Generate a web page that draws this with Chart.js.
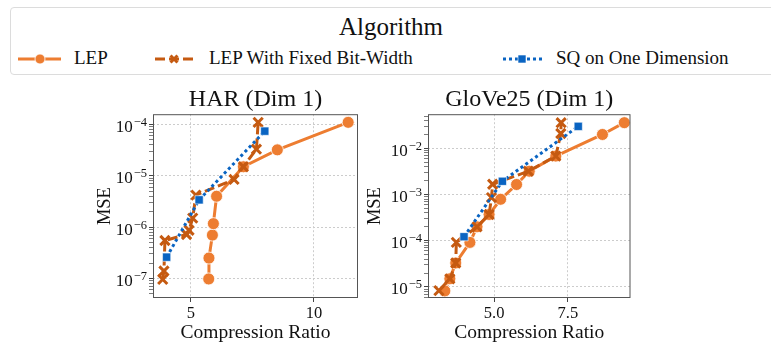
<!DOCTYPE html>
<html>
<head>
<meta charset="utf-8">
<script src="https://cdn.jsdelivr.net/npm/chart.js@4"></script>
<style>
  html, body { margin: 0; padding: 0; background: #fff; width: 771px; height: 347px; overflow: hidden; }
  body { position: relative; font-family: 'Liberation Serif', serif; color: #111; }
  #legend { position: absolute; left: 10px; top: 7px; width: 775px; height: 68px; border: 1px solid #dcdcdc; border-radius: 4px; box-sizing: border-box; }
  #legend .title { position: absolute; left: 0; width: 760px; top: 5px; text-align: center; font-size: 25px; line-height: 28px; }
  #legend .item { position: absolute; top: 39px; font-size: 19px; line-height: 22px; }
  #legend svg { position: absolute; top: 40px; }
  canvas { position: absolute; }
</style>
</head>
<body>
<div id="legend">
  <div class="title">Algorithm</div>
  <svg style="left:5px" width="46" height="22">
    <line x1="2" y1="11" x2="45" y2="11" stroke="#ED7D31" stroke-width="3"/>
    <circle cx="24" cy="11" r="5" fill="#ED7D31" stroke="#fff" stroke-width="0.8"/>
  </svg>
  <div class="item" style="left:63px">LEP</div>
  <svg style="left:142px" width="46" height="22">
    <line x1="2" y1="11" x2="43" y2="11" stroke="#C55A11" stroke-width="3" stroke-dasharray="10,4"/>
    <path d="M17.5 7.5 L24.5 14.5 M24.5 7.5 L17.5 14.5" stroke="#C55A11" stroke-width="3"/>
  </svg>
  <div class="item" style="left:198px">LEP With Fixed Bit-Width</div>
  <svg style="left:490px" width="46" height="22">
    <line x1="2" y1="11" x2="43" y2="11" stroke="#0A64C2" stroke-width="3" stroke-dasharray="3,3"/>
    <rect x="17" y="7" width="8" height="8" fill="#0A64C2" stroke="#fff" stroke-width="0.6"/>
  </svg>
  <div class="item" style="left:545px">SQ on One Dimension</div>
</div>
<canvas id="har" width="280" height="262" style="left:90px; top:85px; width:280px; height:262px"></canvas>
<canvas id="glove" width="280" height="262" style="left:360px; top:85px; width:280px; height:262px"></canvas>
<script>
// HAR (Dim 1): compression ratio vs MSE
const harLepX = [5.72, 5.73, 5.87, 5.91, 6.04, 7.13, 8.51, 11.39];
const harLepY = [9.8e-8, 2.5e-7, 7.0e-7, 1.17e-6, 4.0e-6, 1.5e-5, 3.2e-5, 1.1e-4];
const harFixedX = [3.85, 3.90, 3.94, 4.82, 4.92, 5.07, 5.20, 6.75, 7.13, 7.66, 7.73];
const harFixedY = [9.6e-8, 1.4e-7, 5.5e-7, 7.2e-7, 8.7e-7, 1.5e-6, 4.2e-6, 8.5e-6, 1.5e-5, 3.3e-5, 1.1e-4];
const harSqX = [4.01, 5.33, 8.00];
const harSqY = [2.6e-7, 3.4e-6, 7.4e-5];

// GloVe25 (Dim 1)
const gloveLepX = [3.33, 3.50, 3.70, 4.18, 4.42, 4.83, 5.22, 5.76, 6.19, 7.09, 8.67, 9.41];
const gloveLepY = [8.2e-6, 1.5e-5, 3.3e-5, 9.2e-5, 2.0e-4, 3.7e-4, 7.9e-4, 1.65e-3, 3.2e-3, 6.8e-3, 2.0e-2, 3.6e-2];
const gloveFixedX = [3.13, 3.50, 3.70, 3.72, 4.42, 4.83, 4.91, 4.95, 6.16, 7.09, 7.26, 7.27];
const gloveFixedY = [8.3e-6, 1.5e-5, 3.3e-5, 9.2e-5, 2.0e-4, 3.7e-4, 8.6e-4, 1.67e-3, 3.2e-3, 6.8e-3, 2.1e-2, 3.6e-2];
const gloveSqX = [3.98, 5.28, 7.85];
const gloveSqY = [1.22e-4, 1.94e-3, 3.0e-2];

// tick labels
const harXTicks = [5, 10];
const harXLabels = ['5', '10'];
const gloveXTicks = [5.0, 7.5];
const gloveXLabels = ['5.0', '7.5'];

const LEP_COLOR = '#ED7D31';
const FIXED_COLOR = '#C55A11';
const SQ_COLOR = '#0A64C2';
const FONT = "'Liberation Serif', serif";

Chart.defaults.font.family = FONT;
Chart.defaults.color = '#111';

function isDecade(v) {
  const l = Math.log10(v);
  return Math.abs(l - Math.round(l)) < 1e-6;
}

function logTicks(min, max) {
  const ticks = [];
  for (let d = Math.floor(Math.log10(min)); d <= Math.ceil(Math.log10(max)); d++) {
    for (let k = 1; k <= 9; k++) {
      const v = k * Math.pow(10, d);
      if (v >= min && v <= max) ticks.push({ value: v, major: k === 1 });
    }
  }
  return ticks;
}

function pts(xs, ys) {
  return xs.map((x, i) => ({ x: x, y: ys[i] }));
}

// full box around the plotting area
const framePlugin = {
  id: 'frame',
  afterDatasetsDraw(chart) {
    const a = chart.chartArea;
    const ctx = chart.ctx;
    ctx.save();
    ctx.strokeStyle = '#555';
    ctx.lineWidth = 1;
    ctx.strokeRect(a.left + 0.5, a.top + 0.5, a.right - a.left - 1, a.bottom - a.top - 1);
    ctx.restore();
  }
};

// y labels as 10 with a raised exponent, placed at the log scale's decade ticks
const powLabelPlugin = {
  id: 'powLabels',
  afterDraw(chart) {
    const s = chart.scales.y;
    const ctx = chart.ctx;
    const right = chart.chartArea.left - 6;
    ctx.save();
    ctx.fillStyle = '#111';
    ctx.textAlign = 'right';
    ctx.textBaseline = 'alphabetic';
    s.ticks.forEach(t => {
      if (!isDecade(t.value)) return;
      const y = s.getPixelForValue(t.value);
      const exp = '\u2212' + Math.abs(Math.round(Math.log10(t.value)));
      ctx.font = '12.5px ' + FONT;
      const ew = ctx.measureText(exp).width;
      ctx.fillText(exp, right, y + 1.5);
      ctx.font = '17px ' + FONT;
      ctx.fillText('10', right - ew - 1, y + 7.5);
    });
    ctx.restore();
  }
};

function makeChart(id, title, xRange, xTicks, xLabels, yRange, lep, fixed, sq, yWidth, padRight) {
  return new Chart(document.getElementById(id), {
    type: 'line',
    data: {
      datasets: [
        {
          label: 'LEP', data: lep, order: 3,
          borderColor: LEP_COLOR, backgroundColor: LEP_COLOR, borderWidth: 3,
          pointStyle: 'circle', pointRadius: 6, pointBorderColor: '#fff', pointBorderWidth: 0.8,
          pointBackgroundColor: LEP_COLOR
        },
        {
          label: 'LEP With Fixed Bit-Width', data: fixed, order: 2,
          borderColor: FIXED_COLOR, backgroundColor: FIXED_COLOR, borderWidth: 3, borderDash: [10, 4],
          pointStyle: 'crossRot', pointRadius: 6.5, pointBorderColor: FIXED_COLOR, pointBorderWidth: 3
        },
        {
          label: 'SQ on One Dimension', data: sq, order: 1,
          borderColor: SQ_COLOR, backgroundColor: SQ_COLOR, borderWidth: 3, borderDash: [3, 3],
          pointStyle: 'rect', pointRadius: 5.8, pointBorderColor: '#fff', pointBorderWidth: 0.6,
          pointBackgroundColor: SQ_COLOR
        }
      ]
    },
    options: {
      responsive: false,
      animation: false,
      layout: { padding: { left: 0, right: padRight, top: 0, bottom: 0 } },
      elements: { line: { tension: 0, borderCapStyle: 'butt' } },
      plugins: {
        legend: { display: false },
        tooltip: { enabled: false },
        title: {
          display: true, text: title, color: '#111', fullSize: false,
          font: { size: 24, weight: 'normal', lineHeight: 1.05 },
          padding: { top: 2, bottom: 2 }
        }
      },
      scales: {
        x: {
          type: 'linear', min: xRange[0], max: xRange[1],
          afterBuildTicks: s => { s.ticks = xTicks.map(v => ({ value: v })); },
          afterFit: s => { s.height = 49; },
          ticks: {
            autoSkip: false, maxRotation: 0, padding: 2, color: '#111',
            font: { size: 16.5 },
            callback: (v, i) => xLabels[i]
          },
          grid: { color: '#cccccc', lineWidth: 1, tickLength: 4, tickColor: '#444' },
          border: { display: false, dash: [2, 2] },
          title: {
            display: true, text: 'Compression Ratio', color: '#111',
            font: { size: 19.5 }, padding: { top: 0, bottom: 2 }
          }
        },
        y: {
          type: 'logarithmic', min: yRange[0], max: yRange[1],
          afterBuildTicks: s => { s.ticks = logTicks(yRange[0], yRange[1]); },
          afterFit: s => { s.width = yWidth; },
          ticks: { autoSkip: false, callback: () => '' },
          grid: {
            color: c => isDecade(c.tick.value) ? '#cccccc' : 'rgba(0,0,0,0)',
            tickColor: '#444',
            tickWidth: c => isDecade(c.tick.value) ? 1 : 0.7,
            lineWidth: 1, tickLength: 4
          },
          border: { display: false, dash: [2, 2] },
          title: {
            display: true, text: 'MSE', color: '#111',
            font: { size: 18.5 }, padding: { top: 4, bottom: 0 }
          }
        }
      }
    },
    plugins: [framePlugin, powLabelPlugin]
  });
}

makeChart('har', 'HAR (Dim 1)', [3.455, 11.79], harXTicks, harXLabels,
  [Math.pow(10, -7.38), Math.pow(10, -3.8)],
  pts(harLepX, harLepY), pts(harFixedX, harFixedY), pts(harSqX, harSqY), 63, 12);

makeChart('glove', 'GloVe25 (Dim 1)', [2.76, 9.62], gloveXTicks, gloveXLabels,
  [Math.pow(10, -5.24), Math.pow(10, -1.26)],
  pts(gloveLepX, gloveLepY), pts(gloveFixedX, gloveFixedY), pts(gloveSqX, gloveSqY), 68, 9);
</script>
</body>
</html>
